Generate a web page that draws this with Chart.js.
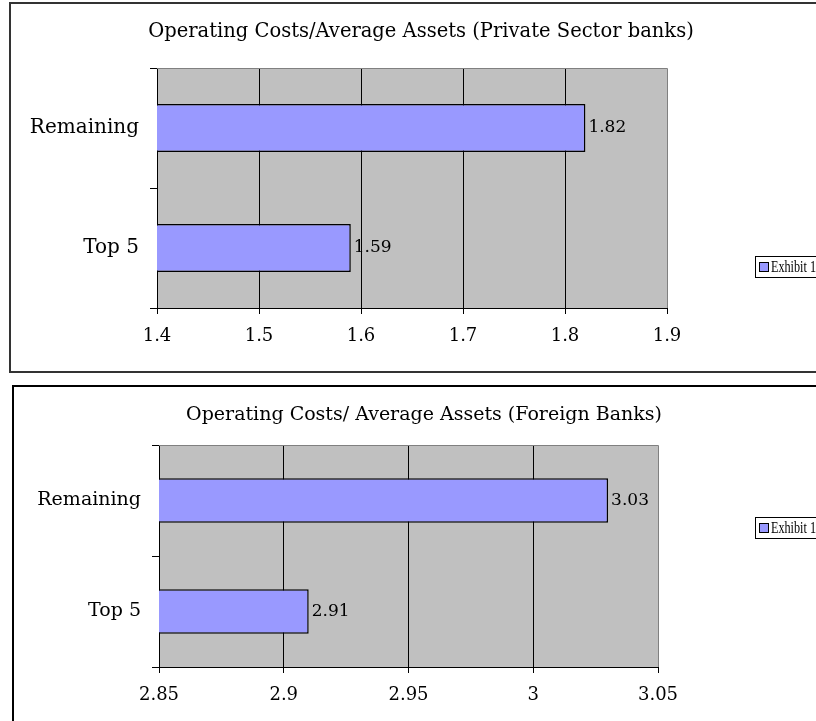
<!DOCTYPE html>
<html><head><meta charset="utf-8">
<script src="https://cdn.jsdelivr.net/npm/chart.js@4/dist/chart.umd.min.js"></script>
<style>
html,body{margin:0;padding:0;background:#fff;overflow:hidden;width:816px;height:721px;position:relative}
.box{position:absolute;border:2px solid #222;box-sizing:border-box}
#b1{left:9px;top:2px;width:840px;height:371px;border-color:#333}
#b2{left:12px;top:385px;width:840px;height:360px;border-color:#000}
.wrap{position:absolute;left:0;width:816px}
#w1{top:0;height:372px}
#w2{top:386px;height:335px}
</style></head><body>
<div class="box" id="b1"></div><div class="box" id="b2"></div>
<div class="wrap" id="w1"><canvas id="c1" width="816" height="372"></canvas></div>
<div class="wrap" id="w2"><canvas id="c2" width="816" height="335"></canvas></div>
<script>
const categories = ['Remaining', 'Top 5'];
const seriesName = 'Exhibit 1';
const privateValues = [1.82, 1.59];
const foreignValues = [3.03, 2.91];
const privateTicks = [1.4, 1.5, 1.6, 1.7, 1.8, 1.9];
const privateTickLabels = ['1.4', '1.5', '1.6', '1.7', '1.8', '1.9'];
const foreignTicks = [2.85, 2.9, 2.95, 3, 3.05];
const foreignTickLabels = ['2.85', '2.9', '2.95', '3', '3.05'];
const titles = ['Operating Costs/Average Assets (Private Sector banks)', 'Operating Costs/ Average Assets (Foreign Banks)'];

Chart.defaults.font.family = "'DejaVu Serif', serif";
Chart.defaults.color = '#000';

function makeChart(id, values, ticks, tickLabels, title, g) {
  const minV = ticks[0], maxV = ticks[ticks.length - 1];
  const deco = {
    id: 'deco',
    beforeDraw(chart) {
      const a = chart.chartArea, ctx = chart.ctx;
      ctx.save();
      ctx.fillStyle = '#c0c0c0';
      ctx.fillRect(a.left, a.top, a.right - a.left, a.bottom - a.top);
      ctx.fillStyle = '#000';
      ctx.font = g.titleFont + "px 'DejaVu Serif'";
      ctx.textAlign = 'center';
      ctx.textBaseline = 'middle';
      ctx.fillText(title, g.titleX, g.titleY);
      ctx.restore();
    },
    afterDatasetsDraw(chart) {
      const a = chart.chartArea, ctx = chart.ctx;
      ctx.save();
      ctx.strokeStyle = '#808080';
      ctx.lineWidth = 1;
      ctx.beginPath();
      ctx.moveTo(a.left, Math.round(a.top) + 0.5);
      ctx.lineTo(Math.round(a.right) + 0.5, Math.round(a.top) + 0.5);
      ctx.lineTo(Math.round(a.right) + 0.5, a.bottom);
      ctx.stroke();
      // data labels
      const meta = chart.getDatasetMeta(0);
      ctx.fillStyle = '#000';
      ctx.font = g.labelFont + "px 'DejaVu Serif'";
      ctx.textAlign = 'left';
      ctx.textBaseline = 'middle';
      meta.data.forEach((el, i) => {
        ctx.fillText(String(chart.data.datasets[0].data[i]), el.x + 3, el.y);
      });
      // legend
      const ly = g.legendY;
      ctx.fillStyle = '#fff';
      ctx.fillRect(755, ly, 100, 21);
      ctx.strokeStyle = '#000';
      ctx.strokeRect(755.5, ly + 0.5, 100, 21);
      ctx.fillStyle = '#9999ff';
      ctx.fillRect(759.5, ly + 6.5, 9, 9);
      ctx.strokeRect(759.5, ly + 6.5, 9, 9);
      ctx.fillStyle = '#000';
      ctx.font = g.legendFont + "px 'Liberation Serif'";
      ctx.fillText(chart.data.datasets[0].label, 771, ly + 11.5, 45);
      ctx.restore();
    }
  };
  return new Chart(document.getElementById(id), {
    type: 'bar',
    data: {
      labels: categories,
      datasets: [{
        label: seriesName,
        data: values,
        backgroundColor: '#9999ff',
        borderColor: '#000',
        borderWidth: 1.5,
        barPercentage: 0.4,
        categoryPercentage: 1.0
      }]
    },
    options: {
      indexAxis: 'y',
      responsive: false,
      animation: false,
      layout: { padding: { left: 0, right: 816 - g.right, top: g.top, bottom: 0 } },
      plugins: { legend: { display: false }, tooltip: { enabled: false }, title: { display: false } },
      scales: {
        y: {
          type: 'category',
          position: 'left',
          afterFit(s) { s.width = g.left; },
          grid: { drawOnChartArea: false, drawTicks: true, tickLength: 7, color: '#000', offset: true },
          border: { display: true, color: '#000', width: 1 },
          ticks: { color: '#000', font: { size: g.catFont }, padding: 11 }
        },
        x: {
          type: 'linear',
          min: minV,
          max: maxV,
          afterBuildTicks(s) { s.ticks = ticks.map(v => ({ value: v })); },
          afterFit(s) { s.height = g.canvasH - g.bottom; },
          grid: {
            color: ctx => (ctx.tick && ctx.tick.value === maxV) ? 'rgba(0,0,0,0)' : '#000',
            tickColor: '#000',
            tickLength: 6,
            drawTicks: true
          },
          border: { display: true, color: '#000', width: 1 },
          ticks: {
            color: '#000',
            font: { size: g.tickFont },
            padding: 12,
            maxRotation: 0,
            autoSkip: false,
            callback: (v, i) => tickLabels[i]
          }
        }
      }
    },
    plugins: [deco]
  });
}

makeChart('c1', privateValues, privateTicks, privateTickLabels, titles[0],
  { left: 157, right: 667, top: 68, bottom: 308, canvasH: 372, titleX: 421, titleY: 32,
    legendY: 256, titleFont: 19.5, labelFont: 17, legendFont: 16, catFont: 20, tickFont: 18 });
makeChart('c2', foreignValues, foreignTicks, foreignTickLabels, titles[1],
  { left: 159, right: 658, top: 59, bottom: 281, canvasH: 335, titleX: 424, titleY: 29,
    legendY: 131, titleFont: 19, labelFont: 17, legendFont: 16, catFont: 19, tickFont: 18 });
</script>
</body></html>
